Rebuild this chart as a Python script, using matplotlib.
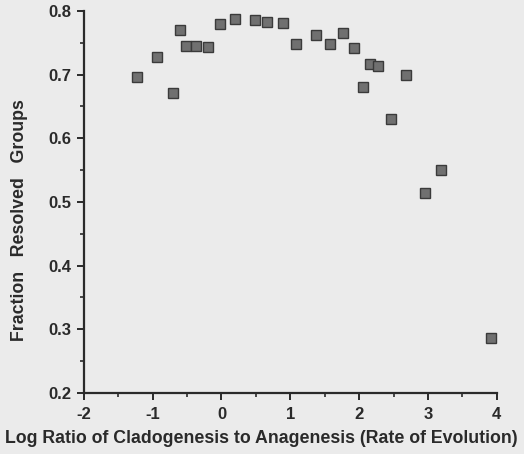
import matplotlib
matplotlib.use("Agg")
import matplotlib.pyplot as plt
from matplotlib.ticker import MultipleLocator

# log ratio of cladogenesis to anagenesis
log_ratio = [-1.23, -0.94, -0.70, -0.60, -0.51, -0.37, -0.20, -0.02, 0.19, 0.48,
             0.66, 0.89, 1.08, 1.37, 1.57, 1.76, 1.92, 2.05, 2.16, 2.28,
             2.46, 2.68, 2.96, 3.19, 3.92]
# fraction of resolved groups
frac_resolved = [0.697, 0.728, 0.671, 0.770, 0.745, 0.745, 0.744, 0.779, 0.788, 0.786,
                 0.783, 0.781, 0.748, 0.762, 0.748, 0.766, 0.742, 0.681, 0.717, 0.714,
                 0.630, 0.699, 0.514, 0.550, 0.287]

x_ticks = [-2, -1, 0, 1, 2, 3, 4]
y_ticks = [0.2, 0.3, 0.4, 0.5, 0.6, 0.7, 0.8]

bg = "#ebebeb"
ink = "#2a2a2a"

plt.rcParams['font.family'] = ['Liberation Sans', 'DejaVu Sans']
plt.rcParams['font.weight'] = 'bold'

fig = plt.figure(figsize=(5.24, 4.54), dpi=100, facecolor=bg)
ax = fig.add_axes([0.160, 0.1344, 0.788, 0.8414], facecolor=bg)

ax.plot(log_ratio, frac_resolved, linestyle='none', marker='s', markersize=6.5,
        markerfacecolor='#707070', markeredgecolor='#3a3a3a', markeredgewidth=1.0)

ax.set_xlim(-2, 4)
ax.set_ylim(0.2, 0.8)
ax.xaxis.set_minor_locator(MultipleLocator(0.5))
ax.yaxis.set_minor_locator(MultipleLocator(0.05))
ax.set_xticks(x_ticks)
ax.set_xticklabels([str(t) for t in x_ticks])
ax.set_yticks(y_ticks)
ax.set_yticklabels(['%.1f' % t for t in y_ticks])

for s in ['top', 'right']:
    ax.spines[s].set_visible(False)
for s in ['left', 'bottom']:
    ax.spines[s].set_linewidth(1.6)
    ax.spines[s].set_color(ink)

ax.tick_params(axis='both', which='major', direction='out', length=5, width=1.4,
               colors=ink, labelsize=12, pad=4)
ax.tick_params(axis='x', which='major', pad=5)
ax.tick_params(axis='both', which='minor', direction='out', length=3, width=1.2, colors=ink)
for lab in ax.get_xticklabels() + ax.get_yticklabels():
    lab.set_fontweight('bold')

ax.set_xlabel("Log Ratio of Cladogenesis to Anagenesis (Rate of Evolution)",
              fontsize=12.8, fontweight='bold', color=ink)
ax.xaxis.set_label_coords(0.431, -0.097)
ax.set_ylabel("Fraction   Resolved   Groups", fontsize=12.8, fontweight='bold', color=ink)
ax.yaxis.set_label_coords(-0.136, 0.453)

fig.savefig("out.png", dpi=100, facecolor=bg)
